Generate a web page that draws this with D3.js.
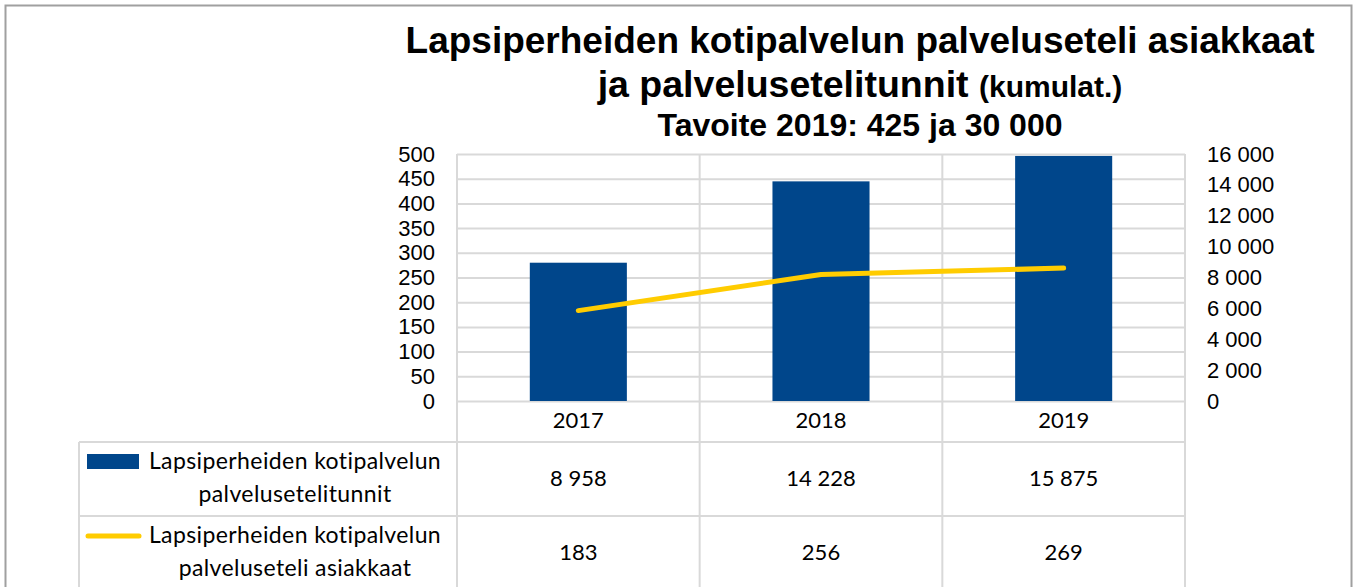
<!DOCTYPE html>
<html lang="fi">

<head>
    <meta charset="UTF-8" />
    <title>Lapsiperheiden kotipalvelun palveluseteli</title>
    <style>
        body { margin: 0; background: #fff; }
        svg { display: block; }
        .tick text { font-family: 'Liberation Sans', Arial, sans-serif; font-size: 22px; fill: #000; }
        .cell { font-family: Lato, 'Open Sans', sans-serif; font-size: 22px; fill: #000; }
        .legend { font-size: 23px; letter-spacing: 0.4px; }
        .title { font-family: 'Liberation Sans', Arial, sans-serif; font-weight: bold; fill: #000; }
    </style>
</head>

<body>
    <svg id="chart"></svg>

    <script src="https://d3js.org/d3.v7.min.js"></script>
    <script>
        const years = ['2017', '2018', '2019'];
        const hours = [8958, 14228, 15875];
        const clients = [183, 256, 269];
        const leftTicks = [0, 50, 100, 150, 200, 250, 300, 350, 400, 450, 500];
        const rightTicks = [0, 2000, 4000, 6000, 8000, 10000, 12000, 14000, 16000];
        const hoursLabel = ['Lapsiperheiden kotipalvelun', 'palvelusetelitunnit'];
        const clientsLabel = ['Lapsiperheiden kotipalvelun', 'palveluseteli asiakkaat'];

        const width = 1356;
        const height = 587;
        const blue = '#00468b';
        const yellow = '#ffcc00';
        const grid = '#d9d9d9';

        const fi = d3.formatLocale({ decimal: ',', thousands: ' ', grouping: [3], currency: ['', ''] });
        const fmt = fi.format(',d');

        const svg = d3.select('#chart')
            .attr('width', width)
            .attr('height', height);

        svg.append('rect')
            .attr('x', 5.5).attr('y', 5.5)
            .attr('width', 1346).attr('height', 600)
            .attr('fill', '#fff')
            .attr('stroke', '#a0a0a0')
            .attr('stroke-width', 2);

        const plotLeft = 457, plotRight = 1185, plotTop = 154, plotBottom = 401;

        const x = d3.scaleBand().domain(years).range([plotLeft, plotRight]).paddingInner(0.6).paddingOuter(0.3);
        const yL = d3.scaleLinear().domain([0, 500]).range([plotBottom, plotTop]);
        const yR = d3.scaleLinear().domain([0, 16000]).range([plotBottom, plotTop]);

        // gridlines
        svg.append('g')
            .attr('transform', `translate(${plotLeft},0)`)
            .call(d3.axisLeft(yL).tickValues(leftTicks).tickSize(-(plotRight - plotLeft)).tickFormat(''))
            .call(g => g.select('.domain').remove())
            .call(g => g.selectAll('line').attr('stroke', grid).attr('stroke-width', 2));

        svg.append('g')
            .attr('transform', `translate(${plotLeft},0)`)
            .call(d3.axisLeft(yL).tickValues(leftTicks).tickSize(0).tickPadding(22))
            .call(g => g.select('.domain').remove());

        svg.append('g')
            .attr('transform', `translate(${plotRight},0)`)
            .call(d3.axisRight(yR).tickValues(rightTicks).tickSize(0).tickPadding(22).tickFormat(fmt))
            .call(g => g.select('.domain').remove());

        // table lines
        const step = x.step();
        const tableTop = 442, rowDiv = 516, tableLeft = 79, tableBottom = 620;
        const cols = d3.range(years.length + 1).map(i => plotLeft + i * step);

        svg.append('g').selectAll('line')
            .data(cols)
            .join('line')
            .attr('x1', d => d).attr('x2', d => d)
            .attr('y1', plotTop).attr('y2', tableBottom)
            .attr('stroke', grid).attr('stroke-width', 2);

        svg.append('g').selectAll('line')
            .data([tableTop, rowDiv])
            .join('line')
            .attr('x1', tableLeft).attr('x2', plotRight)
            .attr('y1', d => d).attr('y2', d => d)
            .attr('stroke', grid).attr('stroke-width', 2);

        svg.append('line')
            .attr('x1', tableLeft).attr('x2', tableLeft)
            .attr('y1', tableTop).attr('y2', tableBottom)
            .attr('stroke', grid).attr('stroke-width', 2);

        // bars
        svg.append('g').selectAll('rect')
            .data(years)
            .join('rect')
            .attr('x', d => x(d))
            .attr('width', x.bandwidth())
            .attr('y', (d, i) => yR(hours[i]))
            .attr('height', (d, i) => plotBottom - yR(hours[i]))
            .attr('fill', blue);

        // line
        const line = d3.line()
            .x((d, i) => x(years[i]) + x.bandwidth() / 2)
            .y(d => yL(d));

        svg.append('path')
            .datum(clients)
            .attr('d', line)
            .attr('fill', 'none')
            .attr('stroke', yellow)
            .attr('stroke-width', 5)
            .attr('stroke-linecap', 'round')
            .attr('stroke-linejoin', 'round');

        // table text
        const cx = d => x(d) + x.bandwidth() / 2;

        svg.append('g').selectAll('text')
            .data(years)
            .join('text')
            .attr('class', 'cell')
            .attr('x', cx).attr('y', 428)
            .attr('text-anchor', 'middle')
            .text(d => d);

        svg.append('g').selectAll('text')
            .data(years)
            .join('text')
            .attr('class', 'cell')
            .attr('x', cx).attr('y', 486)
            .attr('text-anchor', 'middle')
            .text((d, i) => fmt(hours[i]));

        svg.append('g').selectAll('text')
            .data(years)
            .join('text')
            .attr('class', 'cell')
            .attr('x', cx).attr('y', 560)
            .attr('text-anchor', 'middle')
            .text((d, i) => fmt(clients[i]));

        // legend keys
        svg.append('rect')
            .attr('x', 87).attr('y', 454)
            .attr('width', 52).attr('height', 15)
            .attr('fill', blue);

        svg.append('line')
            .attr('x1', 88).attr('x2', 139)
            .attr('y1', 536).attr('y2', 536)
            .attr('stroke', yellow)
            .attr('stroke-width', 5)
            .attr('stroke-linecap', 'round');

        const legendText = (lines, y0) => svg.append('text')
            .attr('class', 'cell legend')
            .attr('text-anchor', 'middle')
            .selectAll('tspan')
            .data(lines)
            .join('tspan')
            .attr('x', 295)
            .attr('y', (d, i) => y0 + i * 33)
            .text(d => d);

        legendText(hoursLabel, 469);
        legendText(clientsLabel, 543);

        // title
        svg.append('text')
            .attr('class', 'title')
            .attr('x', 860).attr('y', 53)
            .attr('text-anchor', 'middle')
            .style('font-size', '37px')
            .text('Lapsiperheiden kotipalvelun palveluseteli asiakkaat');

        const t2 = svg.append('text')
            .attr('class', 'title')
            .attr('x', 860).attr('y', 97)
            .attr('text-anchor', 'middle')
            .style('font-size', '37.5px');
        t2.append('tspan').text('ja palvelusetelitunnit ');
        t2.append('tspan').style('font-size', '30px').text('(kumulat.)');

        svg.append('text')
            .attr('class', 'title')
            .attr('x', 860).attr('y', 136)
            .attr('text-anchor', 'middle')
            .style('font-size', '32px')
            .text('Tavoite 2019: 425 ja 30 000');
    </script>
</body>

</html>
